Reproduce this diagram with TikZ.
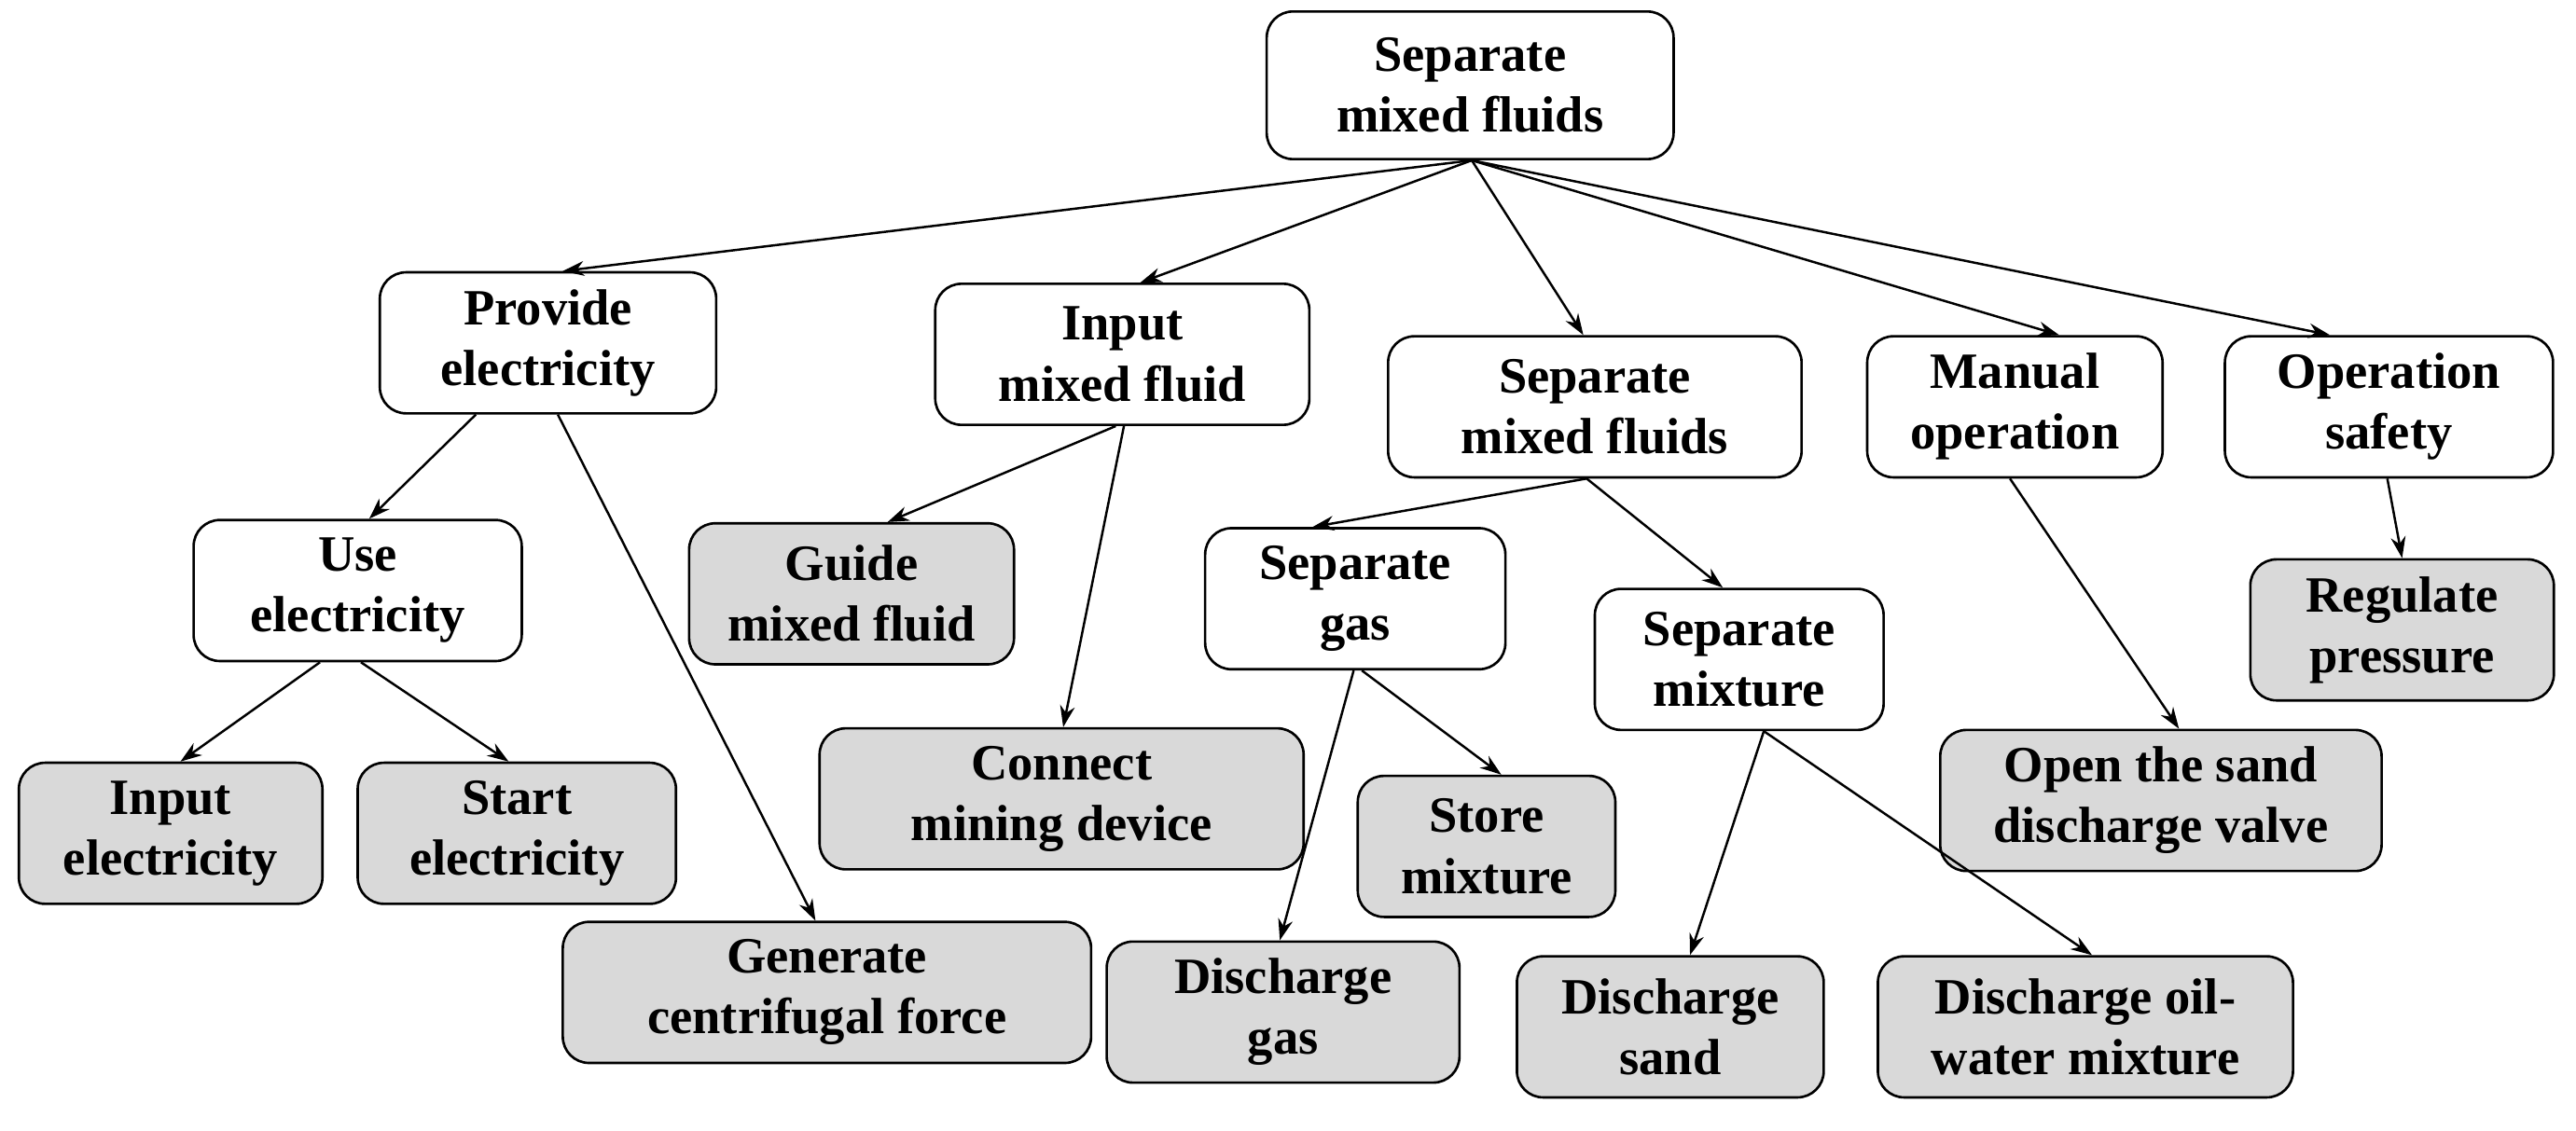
\documentclass[tikz,border=0pt]{standalone}
\usepackage{fontspec}
\setmainfont{Liberation Serif}
\usetikzlibrary{arrows.meta}
\begin{document}
\begin{tikzpicture}[x=1pt,y=-1pt,
 b/.style={draw,line width=1.5pt,rounded corners=16pt,fill=white,align=center,font=\fontsize{31}{37}\selectfont\bfseries,inner xsep=12pt,inner ysep=6pt,minimum height=86pt},
 g/.style={b,fill=gray!30},
 a/.style={line width=1.4pt,-{Stealth[length=13pt,width=9pt]}}]
\useasboundingbox (0,0) rectangle (1570,689);
\node[b,minimum width=248pt,minimum height=90pt] (r) at (896,52) {Separate\\mixed fluids};
\node[b,minimum width=205pt] (pe) at (334,209) {Provide\\electricity};
\node[b,minimum width=228pt] (im) at (684,216) {Input\\mixed fluid};
\node[b,minimum width=252pt] (sm) at (972,248) {Separate\\mixed fluids};
\node[b,minimum width=180pt] (mo) at (1228,248) {Manual\\operation};
\node[b,minimum width=200pt] (os) at (1456,248) {Operation\\safety};
\node[b,minimum width=200pt] (ue) at (218,360) {Use\\electricity};
\node[g,minimum width=198pt] (gm) at (519,362) {Guide\\mixed fluid};
\node[b,minimum width=183pt] (sg) at (826,365) {Separate\\gas};
\node[b,minimum width=176pt] (sx) at (1060,402) {Separate\\mixture};
\node[g,minimum width=185pt] (rp) at (1464,384) {Regulate\\pressure};
\node[g,minimum width=185pt] (ie) at (104,508) {Input\\electricity};
\node[g,minimum width=194pt] (se) at (315,508) {Start\\electricity};
\node[g,minimum width=295pt] (cm) at (647,487) {Connect\\mining device};
\node[g,minimum width=157pt] (st) at (906,516) {Store\\mixture};
\node[g,minimum width=269pt] (ov) at (1317,488) {Open the sand\\discharge valve};
\node[g,minimum width=322pt] (gc) at (504,605) {Generate\\centrifugal force};
\node[g,minimum width=215pt] (dg) at (782,617) {Discharge\\gas};
\node[g,minimum width=187pt] (ds) at (1018,626) {Discharge\\sand};
\node[g,minimum width=253pt] (do) at (1271,626) {Discharge oil-\\water mixture};
\coordinate (r0) at ([xshift=1pt]r.south);
\draw[a] (r0) -- ([xshift=9pt]pe.north);
\draw[a] (r0) -- ([xshift=11pt]im.north);
\draw[a] (r0) -- ([xshift=-7pt]sm.north);
\draw[a] (r0) -- ([xshift=27pt]mo.north);
\draw[a] (r0) -- ([xshift=-36pt]os.north);
\draw[a] ([xshift=-44pt]pe.south) -- ([xshift=7pt]ue.north);
\draw[a] ([xshift=6pt]pe.south) -- ([xshift=-7pt]gc.north);
\draw[a] ([xshift=-4pt]im.south) -- ([xshift=22pt]gm.north);
\draw[a] ([xshift=1pt]im.south) -- ([xshift=1pt]cm.north);
\draw[a] ([xshift=-5pt]sm.south) -- ([xshift=-26pt]sg.north);
\draw[a] ([xshift=-5pt]sm.south) -- ([xshift=-10pt]sx.north);
\draw[a] ([xshift=-23pt]ue.south) -- ([xshift=6pt]ie.north);
\draw[a] ([xshift=2pt]ue.south) -- ([xshift=-5pt]se.north);
\draw[a] ([xshift=4pt]sg.south) -- ([xshift=9pt]st.north);
\draw[a] ([xshift=-1pt]sg.south) -- ([xshift=-2pt]dg.north);
\draw[a] ([xshift=15pt]sx.south) -- ([xshift=12pt]ds.north);
\draw[a] ([xshift=15pt]sx.south) -- ([xshift=4pt]do.north);
\draw[a] ([xshift=-3pt]mo.south) -- ([xshift=11pt]ov.north);
\draw[a] ([xshift=-1pt]os.south) -- (rp.north);
\end{tikzpicture}
\end{document}
